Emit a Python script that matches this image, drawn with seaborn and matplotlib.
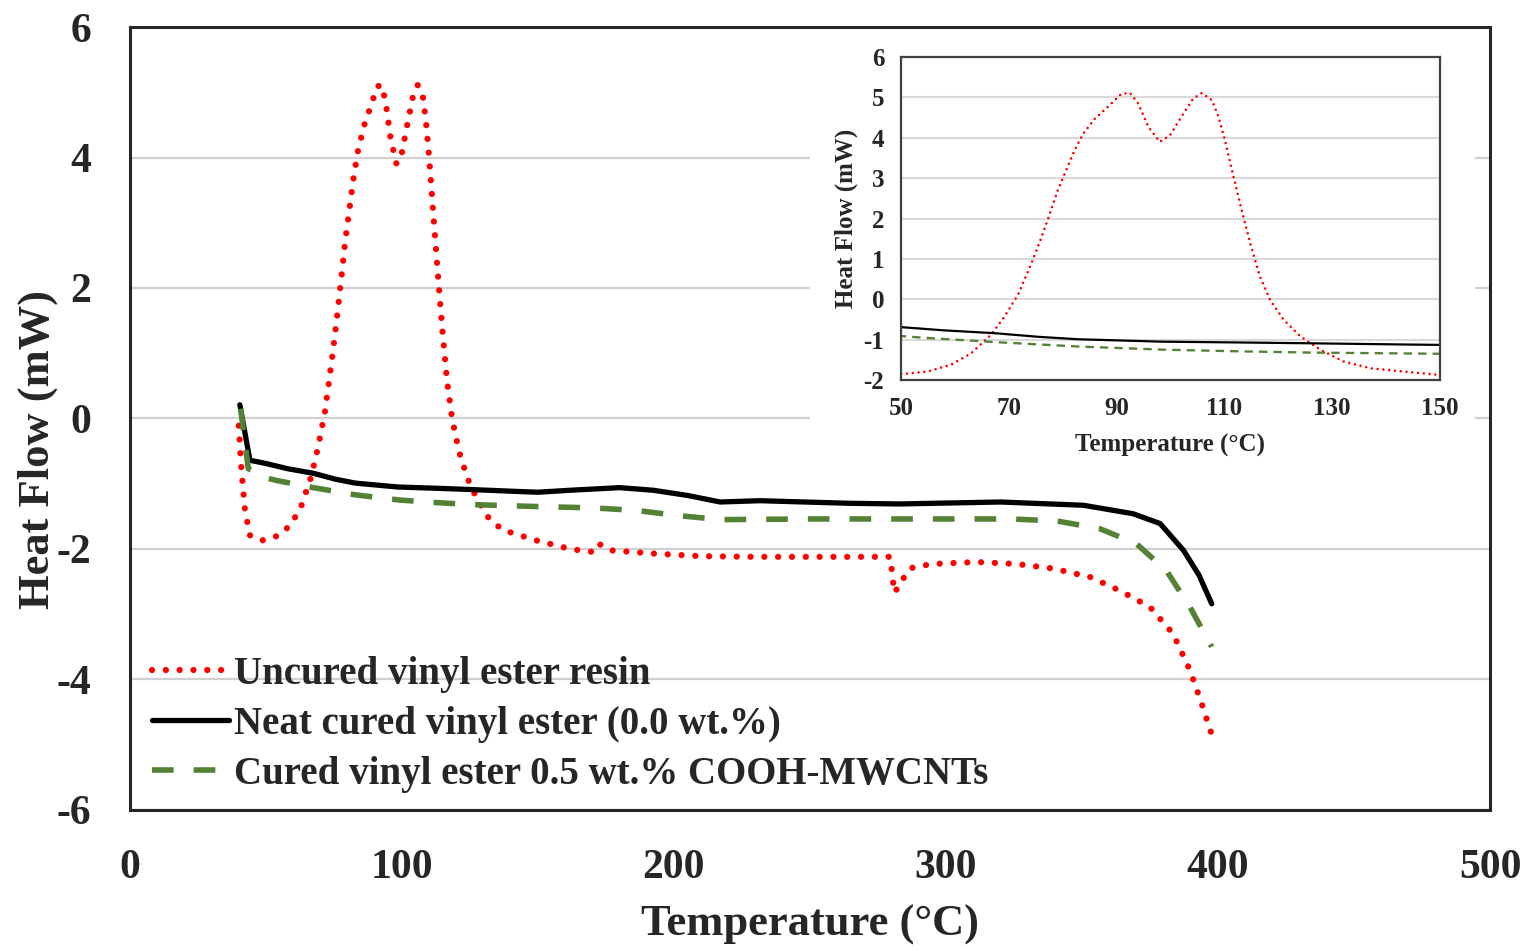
import matplotlib
matplotlib.use("Agg")
import matplotlib.pyplot as plt
from matplotlib.patches import Rectangle
import seaborn as sns

# DSC traces (temperature in deg C, heat flow in mW)
temp_uncured = [40, 41, 42.3, 44.1, 48.4, 50.6, 54.9, 59.3, 63.0, 66.7, 69.2, 71.7,
                74.2, 76.0, 77.3, 79.1, 80.4, 82.2, 83.8, 86.0, 88.4, 90.9, 92.5,
                94.0, 95.9, 98.0, 99.9, 102.4, 104.2, 105.8, 107.7, 108.9, 110.1,
                111.7, 113.2, 114.8, 116.6, 118.5, 121.0, 124.1, 127.8, 132.1,
                137.1, 143.3, 149.5, 161.8, 171, 172.8, 176.5, 192.4, 209.6, 230,
                260, 279.5, 281, 283, 286, 288, 295, 311.3, 326, 339.4, 353, 364,
                375, 383.5, 389.7, 394, 397.5]
flow_uncured = [-0.11, -0.8, -1.41, -1.79, -1.87, -1.85, -1.79, -1.62, -1.34, -0.88,
                -0.43, 0.11, 0.89, 1.51, 2.0, 2.70, 3.12, 3.69, 4.1, 4.48, 4.77,
                5.09, 5.11, 4.85, 4.27, 3.90, 4.06, 4.60, 4.97, 5.11, 4.93, 4.52,
                3.94, 3.03, 2.21, 1.38, 0.56, -0.02, -0.51, -0.92, -1.25, -1.54,
                -1.71, -1.79, -1.87, -2.0, -2.05, -1.93, -2.02, -2.07, -2.11, -2.12,
                -2.12, -2.12, -2.67, -2.55, -2.33, -2.28, -2.23, -2.20, -2.23, -2.30,
                -2.43, -2.64, -2.89, -3.30, -3.86, -4.37, -4.82]

temp_neat = [40.4, 44.1, 50, 58, 67.4, 75.5, 82.8, 98.4, 113, 125.9, 143.4, 150,
             161.8, 180, 192.4, 205, 217, 231.6, 264.7, 283, 320, 350.5, 368.8,
             378.7, 387.3, 393, 397.7]
flow_neat = [0.21, -0.64, -0.69, -0.77, -0.84, -0.93, -0.99, -1.05, -1.07, -1.09,
             -1.12, -1.13, -1.10, -1.06, -1.10, -1.18, -1.28, -1.26, -1.30, -1.31,
             -1.28, -1.33, -1.46, -1.61, -2.02, -2.40, -2.84]

temp_cnt = [40.7, 43.5, 50, 53.9, 67.4, 82.8, 99.1, 113, 125.9, 150, 170.3, 186.3,
            202, 217, 250, 289, 323.5, 340.7, 356.6, 370, 381, 389.7, 397.7]
flow_cnt = [0.15, -0.77, -0.91, -0.95, -1.06, -1.17, -1.25, -1.29, -1.32, -1.35,
            -1.37, -1.41, -1.49, -1.55, -1.54, -1.54, -1.54, -1.57, -1.69, -1.92,
            -2.33, -2.89, -3.5]

labels = ["Uncured vinyl ester resin", "Neat cured vinyl ester (0.0 wt.%)",
          "Cured vinyl ester 0.5 wt.% COOH-MWCNTs"]

RED = "#ff0000"
GREEN = "#548235"

sns.set_theme(style="white")
plt.rcParams['font.family'] = ['Liberation Serif', 'DejaVu Serif']
plt.rcParams['font.weight'] = 'bold'
plt.rcParams['axes.labelweight'] = 'bold'
plt.rcParams['axes.unicode_minus'] = False


def draw_traces(ax, scale, legend):
    sns.lineplot(x=temp_uncured, y=flow_uncured, ax=ax, color=RED, lw=4.5 * scale,
                 sort=False, estimator=None, label=labels[0] if legend else None)
    ln = ax.lines[-1]
    ln.set_dashes((0.01, 2.2))
    ln.set_dash_capstyle('round')
    sns.lineplot(x=temp_neat, y=flow_neat, ax=ax, color="black", lw=3.8 * scale,
                 sort=False, estimator=None, label=labels[1] if legend else None)
    sns.lineplot(x=temp_cnt, y=flow_cnt, ax=ax, color=GREEN, lw=4.0 * scale,
                 sort=False, estimator=None, label=labels[2] if legend else None)
    ln = ax.lines[-1]
    ln.set_dashes((3.9, 3.6) if scale > 0.6 else (3.6, 2.6))


fig = plt.figure(figsize=(15.38, 9.51), dpi=100)

# --- main plot ---
ax = fig.add_axes([0.0845, 0.1483, 0.8843, 0.8233])
draw_traces(ax, 1.0, True)
ax.set_xlim(0, 500)
ax.set_ylim(-6, 6)
ax.set_xticks(range(0, 501, 100))
ax.set_yticks(range(-6, 7, 2))
ax.yaxis.grid(True, color='#d0d0d0', lw=1.6)
ax.xaxis.grid(False)
ax.tick_params(length=0, labelsize=30, pad=28)
ax.set_xlabel("Temperature (°C)", fontsize=32, labelpad=13)
ax.set_ylabel("Heat Flow (mW)", fontsize=32)
ax.yaxis.set_label_coords(-0.053, 0.46)
for s in ax.spines.values():
    s.set_color('#262626')
    s.set_linewidth(2.2)
ax.legend(loc='lower left', bbox_to_anchor=(0.016, 0.022), frameon=False,
          fontsize=28, handlelength=2.0, handletextpad=0.12, labelspacing=0.33,
          borderpad=0, borderaxespad=0)

# white panel behind the inset (it was pasted over the main chart)
fig.add_artist(Rectangle((0.5267, 0.5163), 0.4324, 0.4416, transform=fig.transFigure,
                         facecolor='white', edgecolor='none', zorder=1))

# --- inset ---
axi = fig.add_axes([0.5858, 0.6004, 0.3505, 0.3396])
axi.set_zorder(2)
draw_traces(axi, 0.42, False)
axi.set_xlim(50, 150)
axi.set_ylim(-2, 6)
axi.set_xticks(range(50, 151, 20))
axi.set_yticks(range(-2, 7, 1))
axi.yaxis.grid(True, color='#d9d9d9', lw=1.5)
axi.xaxis.grid(False)
axi.tick_params(length=0, labelsize=18, pad=12)
axi.set_xlabel("Temperature (°C)", fontsize=18, labelpad=10)
axi.set_ylabel("Heat Flow (mW)", fontsize=18, labelpad=4)
for s in axi.spines.values():
    s.set_color('#404040')
    s.set_linewidth(1.6)

fig.savefig("out.png", dpi=100, facecolor='white')
